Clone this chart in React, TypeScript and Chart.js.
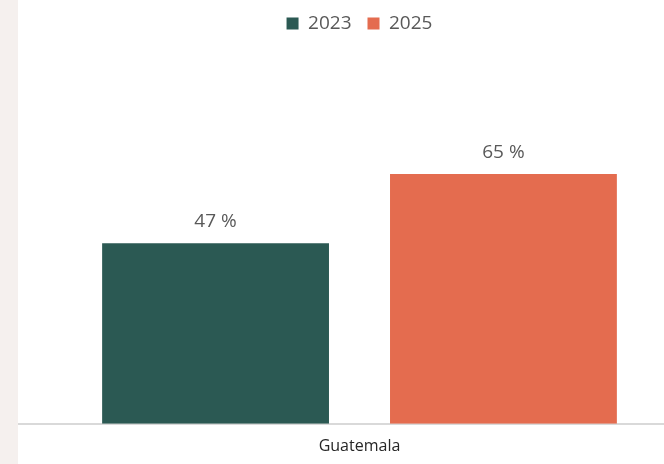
import React, { useEffect, useRef } from "react";
import { Chart, registerables } from "chart.js";

Chart.register(...registerables);

const categories = ["Guatemala"];
const seriesNames = ["2023", "2025"];
const values2023 = [47];
const values2025 = [65];
const seriesColors = ["#2b5953", "#e46c4f"];
const yMax = 100;

const valueLabels = {
  id: "valueLabels",
  afterDatasetsDraw(chart: any) {
    const ctx = chart.ctx;
    ctx.save();
    ctx.font = "19px 'Open Sans'";
    ctx.fillStyle = "#595959";
    ctx.textAlign = "center";
    ctx.textBaseline = "alphabetic";
    chart.data.datasets.forEach((ds: any, i: number) => {
      const meta = chart.getDatasetMeta(i);
      meta.data.forEach((bar: any, j: number) => {
        ctx.fillText(`${ds.data[j]} %`, bar.x, bar.y - 16);
      });
    });
    ctx.restore();
  },
};

const legendHeightTweak = {
  id: "legendHeightTweak",
  afterInit(chart: any) {
    const lg = chart.legend;
    if (lg && !lg._patched) {
      const orig = lg.fit;
      lg.fit = function () {
        orig.call(this);
        this.height -= 3.5;
      };
      lg._patched = true;
    }
  },
};

export default function App() {
  const ref = useRef<HTMLCanvasElement>(null);
  useEffect(() => {
    document.body.style.margin = "0";
    document.body.style.background = "#f5f0ee";
    const chart = new Chart(ref.current!, {
      type: "bar",
      data: {
        labels: categories,
        datasets: [
          { label: seriesNames[0], data: values2023, backgroundColor: seriesColors[0] },
          { label: seriesNames[1], data: values2025, backgroundColor: seriesColors[1] },
        ],
      },
      options: {
        animation: false,
        responsive: false,
        maintainAspectRatio: false,
        layout: { padding: { top: -2, bottom: -5, left: 0, right: 0 } },
        datasets: { bar: { categoryPercentage: 0.843, barPercentage: 0.788 } },
        plugins: {
          legend: {
            position: "top",
            labels: {
              boxWidth: 12,
              boxHeight: 12,
              padding: 16,
              color: "#595959",
              font: { family: "'Open Sans'", size: 19 },
            },
          },
          tooltip: { enabled: false },
        },
        scales: {
          x: {
            grid: { display: false, drawTicks: false },
            border: { display: true, color: "#d9d9d9", width: 2 },
            ticks: { color: "#262626", padding: 13, font: { family: "'Open Sans'", size: 16 } },
          },
          y: { display: false, min: 0, max: yMax },
        },
      },
      plugins: [legendHeightTweak, valueLabels],
    });
    return () => chart.destroy();
  }, []);
  return (
    <div style={{ position: "absolute", left: 18, top: 0, width: 646, height: 464, overflow: "hidden", background: "#fff" }}>
      <canvas ref={ref} width={683} height={464} style={{ display: "block" }} />
    </div>
  );
}
